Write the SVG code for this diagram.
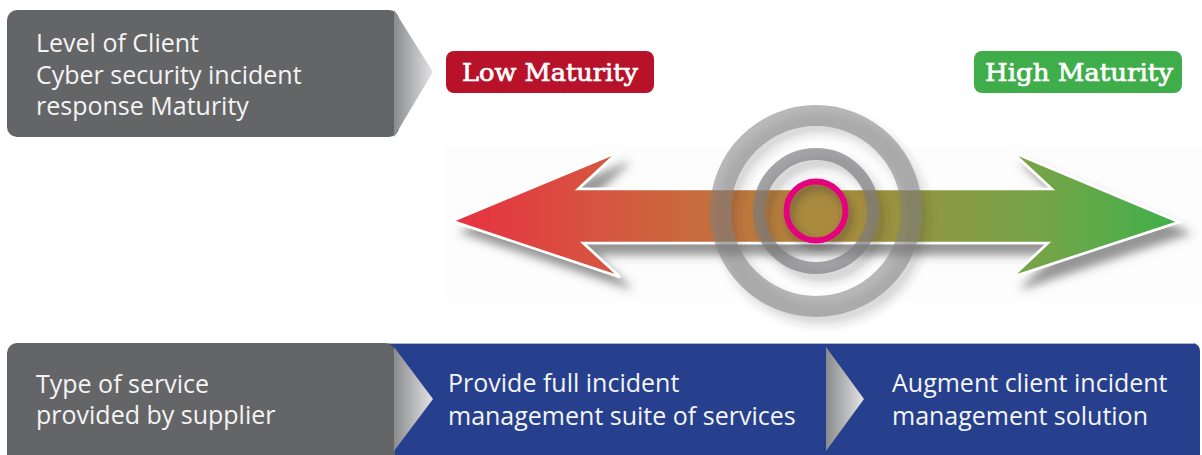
<svg xmlns="http://www.w3.org/2000/svg" width="1202" height="455" viewBox="0 0 1202 455">
  <defs>
    <style>
      .label { font-family: "Open Sans", "Noto Sans", "DejaVu Sans", sans-serif; font-size: 25px; fill: #f4f4f4; }
      .badge { font-family: "DejaVu Serif", "Liberation Serif", serif; font-size: 24px; fill: #ffffff; stroke: #ffffff; stroke-width: 0.7px; }
      .panel-grey { fill: #646567; }
      .panel-blue { fill: #26408e; }
    </style>
    <linearGradient id="chevron" x1="0" y1="0" x2="1" y2="0">
      <stop offset="0" stop-color="#8a8b8d"/>
      <stop offset="1" stop-color="#e4e4e5"/>
    </linearGradient>
    <linearGradient id="spectrum" gradientUnits="userSpaceOnUse" x1="452" y1="0" x2="1179" y2="0">
      <stop offset="0" stop-color="#e8303f"/>
      <stop offset="0.2" stop-color="#d7543f"/>
      <stop offset="0.35" stop-color="#c56e3d"/>
      <stop offset="0.5" stop-color="#b0873b"/>
      <stop offset="0.68" stop-color="#8b9a44"/>
      <stop offset="0.82" stop-color="#72a547"/>
      <stop offset="1" stop-color="#3db14b"/>
    </linearGradient>
    <filter id="arrowShadow" x="-5%" y="-30%" width="115%" height="170%">
      <feDropShadow dx="10" dy="11" stdDeviation="5" flood-color="#3c3c3c" flood-opacity="0.55"/>
    </filter>
    <filter id="ringShadow" x="-30%" y="-30%" width="160%" height="160%">
      <feDropShadow dx="6" dy="8" stdDeviation="5" flood-color="#333333" flood-opacity="0.35"/>
    </filter>
    <filter id="dotShadow" x="-40%" y="-40%" width="180%" height="180%">
      <feDropShadow dx="3" dy="5" stdDeviation="4" flood-color="#333333" flood-opacity="0.5"/>
    </filter>
  </defs>

  <rect width="1202" height="455" fill="#ffffff"/>

  <!-- faint backdrop behind the scale -->
  <rect x="445" y="147" width="757" height="155" fill="#fdfdfd"/>

  <!-- top-left heading panel -->
  <g id="node-client-level">
    <rect class="panel-grey" x="7" y="10" width="392" height="127" rx="10"/>
    <polygon points="394,10 433,72 394,137" fill="url(#chevron)"/>
    <text class="label" x="36" y="52">Level of Client<tspan x="36" y="83.5">Cyber security incident</tspan><tspan x="36" y="115">response Maturity</tspan></text>
  </g>

  <!-- maturity badges -->
  <g id="node-low-maturity">
    <rect x="446" y="51" width="208" height="42" rx="8" fill="#b8122a"/>
    <text class="badge" x="462" y="81" textLength="176" lengthAdjust="spacingAndGlyphs">Low Maturity</text>
  </g>
  <g id="node-high-maturity">
    <rect x="974" y="51" width="208" height="42" rx="8" fill="#3fad4a"/>
    <text class="badge" x="985" y="81" textLength="188" lengthAdjust="spacingAndGlyphs">High Maturity</text>
  </g>

  <!-- double-headed maturity scale -->
  <g id="connectors">
    <path d="M452,221 L618,152 L578,189 L1052,189 L1012,152 L1179,222 L1012,277 L1048,243 L583,243 L620,277 Z"
          fill="url(#spectrum)" stroke="#ffffff" stroke-width="2.5" stroke-linejoin="miter" filter="url(#arrowShadow)"/>
  </g>

  <!-- target on the scale -->
  <g id="node-target">
    <circle cx="816" cy="211" r="95.5" fill="none" stroke="#7f8082" stroke-opacity="0.55" stroke-width="21" filter="url(#ringShadow)"/>
    <circle cx="816" cy="211" r="57" fill="none" stroke="#7a7b7d" stroke-opacity="0.68" stroke-width="12" filter="url(#ringShadow)"/>
    <circle cx="816" cy="211" r="28" fill="#a98a3e"/>
    <circle cx="816" cy="211" r="29.5" fill="none" stroke="#e5007d" stroke-width="6" filter="url(#dotShadow)"/>
  </g>

  <!-- bottom service band -->
  <g id="node-service-type">
    <rect class="panel-blue" x="380" y="343" width="820" height="130" rx="8"/>
    <line x1="385" y1="343.5" x2="1194" y2="343.5" stroke="#aab2cc" stroke-width="1"/>
    <rect class="panel-grey" x="7" y="343" width="388" height="130" rx="10"/>
    <polygon points="394,347 433,399 394,451" fill="url(#chevron)"/>
    <text class="label" x="36" y="393">Type of service<tspan x="36" y="424">provided by supplier</tspan></text>
  </g>
  <g id="node-full-suite">
    <text class="label" x="448" y="392">Provide full incident<tspan x="448" y="425">management suite of services</tspan></text>
  </g>
  <g id="node-augment">
    <polygon points="826,347 864,399 826,451" fill="url(#chevron)"/>
    <text class="label" x="892" y="392">Augment client incident<tspan x="892" y="425">management solution</tspan></text>
  </g>
</svg>
